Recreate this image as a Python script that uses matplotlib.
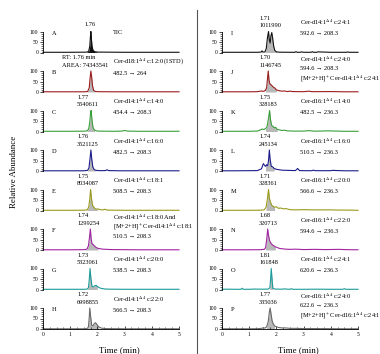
import numpy as np
import matplotlib
matplotlib.use("Agg")
import matplotlib.pyplot as plt
from matplotlib.ticker import MultipleLocator

plt.rcParams['font.family'] = ['Liberation Serif', 'DejaVu Serif']
plt.rcParams['mathtext.fontset'] = 'stix'

# ---------------- data ----------------
a_t = [0, 0.5, 1.0, 1.5, 1.62, 1.68, 1.72, 1.74, 1.76, 1.78, 1.80, 1.84, 1.90, 2.0, 2.5, 3.0, 3.5, 4.0, 4.5, 5.0]
a_y = [1, 1, 1, 1.5, 2, 6, 30, 70, 100, 65, 30, 10, 4, 2, 1.5, 1, 1, 1, 1, 1]
b_t = [0, 0.5, 1.0, 1.5, 1.64, 1.70, 1.73, 1.76, 1.79, 1.82, 1.86, 1.92, 2.0, 2.5, 3.0, 3.5, 4.0, 4.5, 5.0]
b_y = [1, 1, 1, 1, 2, 20, 65, 100, 70, 30, 8, 3, 1.5, 1, 1, 1, 1, 1, 1]
c_t = [0, 0.5, 1.0, 1.5, 1.62, 1.68, 1.72, 1.75, 1.77, 1.80, 1.84, 1.90, 2.0, 2.3, 2.6, 2.9, 3.0, 3.1, 3.5, 4.0, 4.5, 5.0]
c_y = [1, 1, 1, 1.5, 3, 12, 45, 90, 100, 55, 18, 6, 2, 1.5, 1, 2, 5, 2, 1, 1, 1, 1]
d_t = [0, 0.5, 1.0, 1.5, 1.64, 1.69, 1.73, 1.76, 1.79, 1.83, 1.88, 1.95, 2.1, 2.3, 2.35, 2.4, 2.8, 3.5, 4.0, 4.5, 5.0]
d_y = [1, 1, 1, 1, 3, 15, 60, 100, 60, 20, 7, 3, 1.5, 2, 6, 2, 1, 1, 1, 1, 1]
e_t = [0, 0.5, 1.0, 1.5, 1.62, 1.68, 1.72, 1.75, 1.78, 1.82, 1.86, 1.90, 1.95, 2.0, 2.1, 2.2, 2.28, 2.35, 2.6, 3.0, 3.5, 4.0, 4.5, 5.0]
e_y = [1, 1, 1, 1.5, 3, 15, 55, 100, 60, 25, 18, 10, 6, 8, 4, 3, 6, 2, 1.5, 1, 1, 1, 1, 1]
f_t = [0, 0.5, 1.0, 1.4, 1.55, 1.62, 1.67, 1.71, 1.74, 1.77, 1.80, 1.85, 1.90, 1.95, 2.02, 2.1, 2.2, 2.35, 2.5, 3.0, 3.5, 4.0, 4.5, 5.0]
f_y = [1, 1, 1, 1.5, 2, 5, 20, 60, 100, 55, 30, 25, 18, 12, 8, 6, 4, 3, 2, 1.5, 1, 1, 1, 1]
g_t = [0, 0.5, 1.0, 1.5, 1.62, 1.67, 1.70, 1.73, 1.76, 1.80, 1.85, 1.90, 1.95, 2.0, 2.08, 2.15, 2.3, 2.5, 3.0, 3.5, 4.0, 4.5, 5.0]
g_y = [1, 1, 1, 1, 2, 8, 45, 100, 55, 15, 12, 18, 20, 14, 8, 5, 2, 1.5, 1, 1, 1, 1, 1]
h_t = [0, 0.5, 1.0, 1.5, 1.62, 1.67, 1.70, 1.72, 1.75, 1.79, 1.84, 1.88, 1.93, 1.98, 2.05, 2.15, 2.3, 2.5, 3.0, 3.5, 4.0, 4.5, 5.0]
h_y = [1, 1, 1, 1, 2, 10, 55, 100, 60, 18, 15, 25, 30, 22, 10, 4, 2, 1.5, 1, 1, 1, 1, 1]
i_t = [0, 0.5, 1.0, 1.3, 1.44, 1.47, 1.50, 1.58, 1.63, 1.67, 1.71, 1.74, 1.77, 1.80, 1.83, 1.86, 1.90, 1.94, 2.0, 2.1, 2.5,
       2.68, 2.72, 2.76, 2.88, 2.92, 3.0, 3.28, 3.32, 3.36, 3.48, 3.52, 4.0, 4.58, 4.62, 4.66, 5.0]
i_y = [1, 1, 1, 1, 2, 8, 2, 3, 20, 70, 100, 60, 45, 80, 95, 70, 30, 10, 3, 1.5, 1,
       1, 4, 1, 1, 3, 1, 1, 4, 1, 1, 3, 1, 1, 3, 1, 1]
j_t = [0, 0.5, 1.0, 1.3, 1.45, 1.5, 1.55, 1.6, 1.64, 1.67, 1.70, 1.73, 1.76, 1.80, 1.85, 1.90, 1.95, 2.0, 2.1, 2.2,
       2.3, 2.4, 2.5, 2.6, 3.0, 3.2, 3.3, 4.0, 4.5, 5.0]
j_y = [1, 1, 1, 1.5, 5, 3, 4, 8, 20, 60, 100, 55, 38, 35, 28, 22, 18, 10, 6, 4,
       5, 2, 4, 2, 1.5, 4, 1.5, 2, 1, 1]
k_t = [0, 0.5, 1.0, 1.3, 1.42, 1.48, 1.54, 1.60, 1.65, 1.70, 1.75, 1.78, 1.82, 1.87, 1.92, 1.97, 2.03, 2.1, 2.2, 2.3,
       2.4, 2.6, 3.0, 3.2, 3.4, 3.9, 4.5, 5.0]
k_y = [1, 1, 1, 2, 8, 12, 9, 14, 20, 55, 100, 60, 30, 25, 18, 20, 10, 8, 5, 6,
       3, 2, 2, 4, 1.5, 3, 1, 1]
l_t = [0, 0.5, 1.0, 1.3, 1.45, 1.52, 1.56, 1.60, 1.64, 1.68, 1.71, 1.74, 1.77, 1.81, 1.86, 1.92, 2.0, 2.1, 2.2, 2.4,
       2.7, 2.78, 2.85, 3.0, 3.3, 3.36, 3.42, 3.8, 4.0, 4.05, 4.5, 5.0]
l_y = [1, 1, 1.5, 2, 10, 35, 28, 22, 30, 25, 50, 100, 55, 22, 20, 12, 8, 6, 4, 3,
       2, 12, 2, 1.5, 1.5, 4, 1.5, 1.5, 1.5, 3, 1, 1]
m_t = [0, 0.5, 1.0, 1.4, 1.55, 1.62, 1.67, 1.71, 1.74, 1.78, 1.83, 1.88, 1.93, 2.0, 2.08, 2.15, 2.25, 2.35, 2.5, 2.7,
       3.0, 3.3, 3.6, 4.0, 4.3, 4.6, 5.0]
m_y = [1, 1, 1, 1.5, 3, 15, 55, 100, 60, 40, 25, 20, 15, 18, 10, 12, 8, 9, 4, 3,
       4, 3, 3, 3, 2, 2, 1]
n_t = [0, 0.5, 1.0, 1.4, 1.55, 1.60, 1.64, 1.68, 1.71, 1.75, 1.80, 1.85, 1.90, 1.96, 2.03, 2.1, 2.2, 2.35, 2.5, 2.7,
       3.0, 3.4, 3.8, 4.3, 4.6, 5.0]
n_y = [1, 1, 1, 1.5, 3, 10, 45, 100, 70, 45, 32, 25, 20, 15, 12, 8, 6, 4, 3, 4,
       2, 3, 2, 3, 1.5, 1]
o_t = [0, 0.2, 0.5, 0.70, 0.74, 0.78, 1.0, 1.2, 1.5, 1.7, 1.76, 1.79, 1.81, 1.84, 1.87, 1.95, 2.2, 2.3, 2.4, 2.5,
       2.55, 2.6, 3.0, 3.5, 4.0, 4.45, 4.5, 4.55, 5.0]
o_y = [1, 1.5, 1, 1, 6, 1, 1, 2, 1.5, 2, 8, 55, 100, 50, 6, 2, 1.5, 3, 1.5, 1,
       4, 1, 1, 1.5, 1, 1, 4, 1, 1]
p_t = [0, 0.5, 1.0, 1.3, 1.45, 1.52, 1.58, 1.64, 1.70, 1.74, 1.77, 1.80, 1.84, 1.88, 1.93, 2.0, 2.1, 2.2, 2.35, 2.5,
       2.7, 3.0, 3.4, 4.0, 4.5, 5.0]
p_y = [1, 1, 1, 1.5, 3, 6, 4, 10, 35, 80, 100, 75, 40, 25, 15, 10, 7, 5, 5, 3,
       3, 2, 2, 1.5, 1, 1]

letters = list("ABCDEFGHIJKLMNOP")
peak_rt = ["1.76", "RT: 1.76 min", "1.77", "1.76", "1.75", "1.74", "1.73", "1.72",
           "1.71", "1.70", "1.75", "1.74", "1.71", "1.68", "1.81", "1.77"]
peak_area = ["", "AREA: 74343541", "5540611", "3521125", "8034087", "1299254", "5323061", "6998855",
             "1011990", "1146745", "328183", "245134", "328361", "320713", "161848", "335036"]
D = r"$^{\Delta 4}$"
info_lines = [
    ["TIC"],
    ["Cer-d18:1" + D + " c:12:0 (ISTD)", "482.5 → 264"],
    ["Cer-d14:1" + D + " c:14:0", "454.4 → 208.3"],
    ["Cer-d14:1" + D + " c:16:0", "482.5 → 208.3"],
    ["Cer-d14:1" + D + " c:18:1", "508.5 → 208.3"],
    ["Cer-d14:1" + D + " c:18:0 And", "[M+2+H]$^{+}$ Cer-d14:1" + D + " c:18:1", "510.5 → 208.3"],
    ["Cer-d14:1" + D + " c:20:0", "538.5 → 208.3"],
    ["Cer-d14:1" + D + " c:22:0", "566.5 → 208.3"],
    ["Cer-d14:1" + D + " c:24:1", "592.6 → 208.3"],
    ["Cer-d14:1" + D + " c:24:0", "594.6 → 208.3", "[M+2+H]$^{+}$ Cer-d14:1" + D + " c:24:1"],
    ["Cer-d16:1" + D + " c:14:0", "482.5 → 236.3"],
    ["Cer-d16:1" + D + " c:16:0", "510.5 → 236.3"],
    ["Cer-d16:1" + D + " c:20:0", "566.6 → 236.3"],
    ["Cer-d16:1" + D + " c:22:0", "594.6 → 236.3"],
    ["Cer-d16:1" + D + " c:24:1", "620.6 → 236.3"],
    ["Cer-d16:1" + D + " c:24:0", "622.6 → 236.3", "[M+2+H]$^{+}$ Cer-d16:1" + D + " c:24:1"],
]
fill_windows = [(1.60, 2.0), (1.64, 1.95), (1.62, 1.95), (1.64, 1.95), (1.62, 2.0), (1.55, 2.05),
                (1.62, 2.05), (1.62, 2.05), (1.58, 2.0), (1.60, 2.0), (1.60, 2.03), (1.60, 1.92),
                (1.62, 1.93), (1.60, 1.96), (1.76, 1.87), (1.64, 1.93)]
traces = [(a_t, a_y), (b_t, b_y), (c_t, c_y), (d_t, d_y), (e_t, e_y), (f_t, f_y), (g_t, g_y), (h_t, h_y),
          (i_t, i_y), (j_t, j_y), (k_t, k_y), (l_t, l_y), (m_t, m_y), (n_t, n_y), (o_t, o_y), (p_t, p_y)]

colors = ["#111111", "#9b1c1c", "#3a9e3a", "#1c1c8c", "#9a9a1c", "#a024a0", "#1c9a9a", "#6a6a6a"]
fill_gray = "#b8b8b8"

# ---------------- layout ----------------
W, H = 380, 354
fig = plt.figure(figsize=(W / 100, H / 100), dpi=100)
fig.patch.set_facecolor("white")

col_x = [43, 222]
ax_w = 136
zero_y = [52.5 + 39.5 * k for k in range(8)]
ax_h = 21

FS = 4.6
TFS = 4.0

for idx in range(16):
    col = idx // 8
    row = idx % 8
    x0 = col_x[col]
    z = zero_y[row]
    ax = fig.add_axes([x0 / W, (H - z) / H, ax_w / W, ax_h / H])
    ax.set_xlim(0, 5)
    ax.set_ylim(0, 100)
    ax.patch.set_alpha(0)
    t = np.array(traces[idx][0])
    y = np.array(traces[idx][1])
    lo, hi = fill_windows[idx]
    fc = "#111111" if idx == 0 else fill_gray
    ax.fill_between(t, 0, y, where=(t >= lo) & (t <= hi), color=fc, lw=0, clip_on=False)
    ax.plot(t, y, color=colors[row], lw=0.8, clip_on=False, solid_joinstyle="round")

    for s in ["top", "right"]:
        ax.spines[s].set_visible(False)
    ax.spines["left"].set_linewidth(0.6)
    ax.spines["left"].set_bounds(0, 100)
    ax.set_yticks([0, 50, 100])
    ax.yaxis.set_minor_locator(MultipleLocator(10))
    ax.tick_params(axis="y", which="major", direction="out", length=2.2, width=0.5,
                   labelsize=TFS, pad=1.2)
    ax.tick_params(axis="y", which="minor", direction="out", length=1.2, width=0.4)
    if row == 7:
        ax.spines["bottom"].set_linewidth(0.6)
        ax.set_xticks([0, 1, 2, 3, 4, 5])
        ax.xaxis.set_minor_locator(MultipleLocator(0.25))
        ax.tick_params(axis="x", which="major", direction="in", length=2.2, width=0.5,
                       labelsize=TFS, pad=2.5)
        ax.tick_params(axis="x", which="minor", direction="in", length=1.3, width=0.4)
        ax.set_xlabel("Time (min)", fontsize=6.4, labelpad=2)
        ax.xaxis.set_label_coords(0.56, -0.82)
    else:
        ax.spines["bottom"].set_visible(False)
        ax.set_xticks([])

    # panel letter
    ax.text(0.33, 92, letters[idx], fontsize=FS, ha="left", va="center")

    # peak labels
    if idx == 0:
        ax.text(1.73, 133, peak_rt[idx], fontsize=FS, ha="center", va="center")
    else:
        lx = 0.70 if idx == 1 else (1.25 if col == 0 else 1.36)
        ax.text(lx, 162, peak_rt[idx], fontsize=FS, ha="left", va="center")
        ax.text(lx, 128, peak_area[idx], fontsize=FS, ha="left", va="center")

    # compound info
    ix = 2.57 if col == 0 else 2.87
    lines = info_lines[idx]
    if len(lines) == 1:
        ys = [95]
    elif len(lines) == 2:
        ys = [144, 90]
    else:
        ys = [154, 110, 62]
    for s, yy in zip(lines, ys):
        ax.text(ix, yy, s, fontsize=FS, ha="left", va="center")

fig.text(14 / W, 1 - 172 / H, "Relative Abundance", rotation=90, fontsize=6.4,
         ha="center", va="center")

fig.add_artist(plt.Line2D([197 / W, 197 / W], [1 - 10 / H, 0], color="#555555", lw=0.8))

fig.savefig("out.png", dpi=100, facecolor="white")
